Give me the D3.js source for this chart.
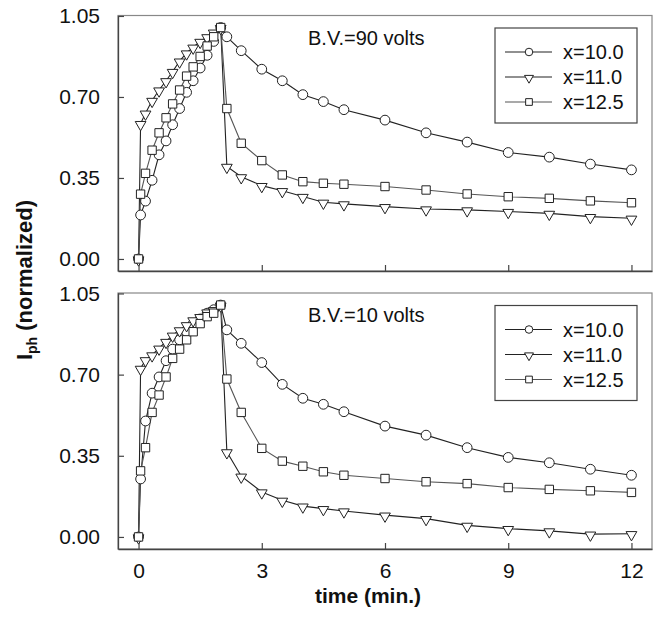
<!DOCTYPE html>
<html>
<head>
<meta charset="utf-8">
<script src="https://cdn.jsdelivr.net/npm/d3@7"></script>
<style>
  body { margin: 0; background: #fff; }
  svg { font-family: "Liberation Sans", Arial, sans-serif; }
</style>
</head>
<body>
<svg width="658" height="619"></svg>
<script>
// time points (min.)
const times = [0, 0.05, 0.17, 0.33, 0.5, 0.67, 0.83, 1.0, 1.17, 1.33, 1.5, 1.67, 1.83, 2.0,
               2.15, 2.5, 3, 3.5, 4, 4.5, 5, 6, 7, 8, 9, 10, 11, 12];

// B.V. = 90 volts
const top100 = [0, 0.19, 0.25, 0.34, 0.45, 0.51, 0.58, 0.65, 0.72, 0.77, 0.825, 0.88, 0.94, 1.0,
                0.96, 0.90, 0.82, 0.77, 0.71, 0.68, 0.645, 0.60, 0.545, 0.505, 0.46, 0.44, 0.41, 0.385];
const top110 = [0, 0.585, 0.63, 0.685, 0.73, 0.77, 0.81, 0.855, 0.89, 0.915, 0.94, 0.96, 0.98, 1.0,
                0.40, 0.355, 0.317, 0.295, 0.27, 0.245, 0.238, 0.226, 0.216, 0.212, 0.205, 0.197, 0.183, 0.176];
const top125 = [0, 0.28, 0.37, 0.47, 0.545, 0.61, 0.67, 0.73, 0.79, 0.83, 0.875, 0.92, 0.96, 1.0,
                0.65, 0.50, 0.425, 0.363, 0.334, 0.327, 0.323, 0.313, 0.298, 0.281, 0.269, 0.262, 0.251, 0.243];

// B.V. = 10 volts
const bot100 = [0, 0.25, 0.50, 0.62, 0.69, 0.76, 0.81, 0.85, 0.885, 0.92, 0.94, 0.965, 0.98, 1.0,
                0.893, 0.835, 0.752, 0.658, 0.598, 0.572, 0.54, 0.478, 0.439, 0.385, 0.343, 0.32, 0.292, 0.266];
const bot110 = [0, 0.727, 0.764, 0.785, 0.814, 0.843, 0.87, 0.893, 0.915, 0.936, 0.95, 0.97, 0.98, 1.0,
                0.367, 0.262, 0.194, 0.158, 0.133, 0.122, 0.112, 0.094, 0.079, 0.05, 0.036, 0.026, 0.012, 0.014];
const bot125 = [0, 0.285, 0.385, 0.537, 0.612, 0.69, 0.77, 0.81, 0.85, 0.885, 0.92, 0.95, 0.965, 1.0,
                0.681, 0.537, 0.382, 0.327, 0.305, 0.281, 0.266, 0.252, 0.238, 0.23, 0.213, 0.205, 0.199, 0.192];

const seriesNames = ['x=10.0', 'x=11.0', 'x=12.5'];
const panelLabels = ['B.V.=90 volts', 'B.V.=10 volts'];
const xTicks = [0, 3, 6, 9, 12];
const yTicks = [0, 0.35, 0.70, 1.05];

var svg = d3.select('svg');

var left = 118, right = 652;
var panels = [
  { top: 15.5, bottom: 271, data: [top100, top110, top125], label: panelLabels[0], labels: false },
  { top: 293, bottom: 549, data: [bot100, bot110, bot125], label: panelLabels[1], labels: true }
];

var xScale = d3.scaleLinear().domain([-0.5, 12.5]).range([left, right]);

var symbols = [d3.symbolCircle, d3.symbolTriangle, d3.symbolSquare];
var lineColors = ['#222', '#222', '#555'];

function marker(g, i, size) {
  var p = g.append('path')
    .attr('d', d3.symbol().type(symbols[i]).size(size)())
    .attr('fill', '#fff')
    .attr('stroke', '#222')
    .attr('stroke-width', 1);
  return p;
}

panels.forEach(function(p, pi) {
  var yScale = d3.scaleLinear().domain([-0.052, 1.052]).range([p.bottom, p.top]);
  var g = svg.append('g');

  // frame
  g.append('rect')
    .attr('x', left).attr('y', p.top)
    .attr('width', right - left).attr('height', p.bottom - p.top)
    .attr('fill', 'none').attr('stroke', '#888').attr('stroke-width', 1.2);

  var xAxis = d3.axisBottom(xScale).tickValues(xTicks)
    .tickSizeInner(-6).tickSizeOuter(0).tickPadding(14)
    .tickFormat(p.labels ? d3.format('d') : '');
  var ga = g.append('g').attr('transform', 'translate(0,' + p.bottom + ')').call(xAxis);

  var yAxis = d3.axisLeft(yScale).tickValues(yTicks)
    .tickSizeInner(-6).tickSizeOuter(0).tickPadding(18)
    .tickFormat(d3.format('.2f'));
  var gy = g.append('g').attr('transform', 'translate(' + left + ',0)').call(yAxis);

  [ga, gy].forEach(function(a) {
    a.select('.domain').attr('stroke', '#444').attr('stroke-width', 1.3);
    a.selectAll('.tick line').attr('stroke', '#444').attr('stroke-width', 1.2);
    a.selectAll('.tick text').attr('font-size', 21).attr('fill', '#111')
      .attr('font-family', '"Liberation Sans", Arial, sans-serif');
  });

  // series
  p.data.forEach(function(vals, si) {
    var pts = times.map((t, k) => [t, vals[k]]);
    var line = d3.line().x(d => xScale(d[0])).y(d => yScale(d[1]));
    g.append('path').datum(pts)
      .attr('d', line)
      .attr('fill', 'none')
      .attr('stroke', lineColors[si])
      .attr('stroke-width', 1.1);
  });
  p.data.forEach(function(vals, si) {
    times.forEach(function(t, k) {
      var m = marker(g, si, si === 2 ? 70 : (si === 1 ? 50 : 75));
      var dy = si === 1 ? 1 : 0;
      m.attr('transform', 'translate(' + xScale(t) + ',' + (yScale(vals[k]) + dy) + ')' + (si === 1 ? ' rotate(180)' : ''));
    });
  });

  // panel label
  g.append('text')
    .attr('x', 308).attr('y', p.top + 29)
    .attr('font-size', 20).attr('fill', '#111')
    .text(p.label);

  // legend
  var lx = 495, ly = p.top + 12.5;
  var lg = g.append('g');
  lg.append('rect')
    .attr('x', lx).attr('y', ly).attr('width', 142).attr('height', 95)
    .attr('fill', '#fff').attr('stroke', '#444').attr('stroke-width', 1.2);
  seriesNames.forEach(function(name, si) {
    var cy = ly + 24 + si * 25;
    lg.append('line')
      .attr('x1', lx + 10).attr('x2', lx + 57)
      .attr('y1', cy).attr('y2', cy)
      .attr('stroke', lineColors[si]).attr('stroke-width', 1.1);
    var m = marker(lg, si, si === 2 ? 45 : (si === 1 ? 35 : 45));
    m.attr('transform', 'translate(' + (lx + 34) + ',' + (cy + (si === 1 ? 1 : 0)) + ')' + (si === 1 ? ' rotate(180)' : ''));
    lg.append('text')
      .attr('x', lx + 68).attr('y', cy + 7)
      .attr('font-size', 20).attr('fill', '#111')
      .text(name);
  });
});

// axis titles
svg.append('text')
  .attr('x', 368).attr('y', 603)
  .attr('text-anchor', 'middle')
  .attr('font-size', 21).attr('font-weight', 'bold').attr('fill', '#111')
  .text('time (min.)');

var yt = svg.append('text')
  .attr('transform', 'translate(32,280) rotate(-90)')
  .attr('text-anchor', 'middle')
  .attr('font-size', 22).attr('font-weight', 'bold').attr('fill', '#111');
yt.append('tspan').text('I');
yt.append('tspan').attr('font-size', 14).attr('dy', 5).text('ph');
yt.append('tspan').attr('dy', -5).text(' (normalized)');
</script>
</body>
</html>
